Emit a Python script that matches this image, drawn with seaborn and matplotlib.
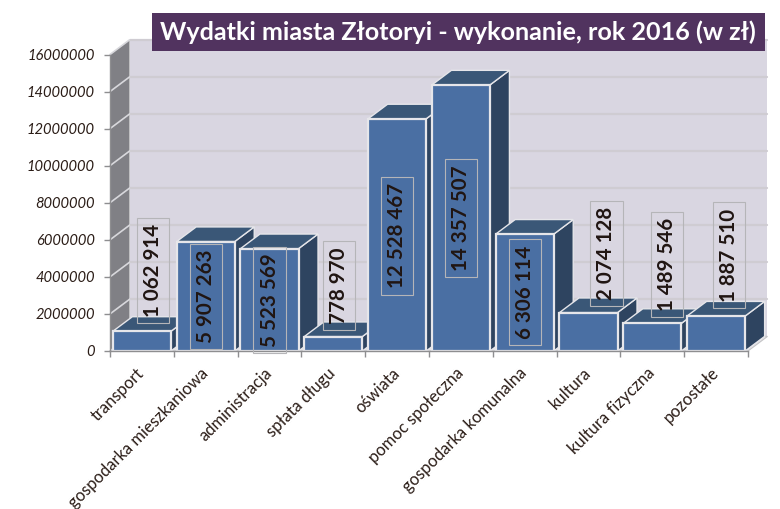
import matplotlib
matplotlib.use("Agg")
import matplotlib.pyplot as plt
from matplotlib.patches import Polygon, Rectangle
import pandas as pd
import seaborn as sns

categories = ["transport", "gospodarka mieszkaniowa", "administracja", "spłata długu",
              "oświata", "pomoc społeczna", "gospodarka komunalna", "kultura",
              "kultura fizyczna", "pozostałe"]
values = [1062914, 5907263, 5523569, 778970, 12528467, 14357507, 6306114, 2074128, 1489546, 1887510]
value_labels = ["1 062 914", "5 907 263", "5 523 569", "778 970", "12 528 467",
                "14 357 507", "6 306 114", "2 074 128", "1 489 546", "1 887 510"]
y_ticks = list(range(0, 16000001, 2000000))
# centre of each value label box relative to the top-centre of its bar (pixels; + = right / down)
label_dx_px = [11, 0, 0, 6, 0, 0, 0, 18, 15, 13]
label_dy_px = [-61, 55, 51.5, -51, 117, 133, 58, -59, -59, -61]

W, H = 780, 509
X0, X1, Y0, Y1 = 110, 748, 351, 54.5
DEPTH_X = 19.5 / ((X1 - X0) / 10)      # category units
DEPTH_Y = 14.6 / (Y0 - Y1) * 16000000  # value units

FRONT, TOP, SIDE = "#4a6fa3", "#3a5777", "#2e4460"
EDGE = "#e6e6ea"
WALL, SIDEWALL, GRID = "#d9d6e1", "#808085", "#cfccd2"
TXT = "#2b1d17"

sns.set_theme(style="white")
plt.rcParams["font.family"] = ["Lato", "DejaVu Sans"]

fig = plt.figure(figsize=(W / 100, H / 100), dpi=100, facecolor="white")
ax = fig.add_axes([X0 / W, 1 - Y0 / H, (X1 - X0) / W, (Y0 - Y1) / H])

df = pd.DataFrame({"kategoria": categories, "wydatki": values})
sns.barplot(data=df, x="kategoria", y="wydatki", color=FRONT, saturation=1, width=0.91,
            linewidth=1.6, edgecolor=EDGE, ax=ax)
ax.set_xlim(-0.5, 9.5)
ax.set_ylim(0, 16000000)
ax.set_xlabel("")
ax.set_ylabel("")
ax.patch.set_visible(False)
bars = [p for p in ax.patches if isinstance(p, Rectangle)][:len(values)]

# walls and floor
xl, xr, ymax = -0.5, 9.5, 16000000
ax.add_patch(Polygon([(xl + DEPTH_X, DEPTH_Y), (xr + DEPTH_X, DEPTH_Y), (xr + DEPTH_X, ymax + DEPTH_Y),
                      (xl + DEPTH_X, ymax + DEPTH_Y)], fc=WALL, ec="none", clip_on=False, zorder=0.1))
ax.add_patch(Polygon([(xl, 0), (xl + DEPTH_X, DEPTH_Y), (xl + DEPTH_X, ymax + DEPTH_Y), (xl, ymax)],
                     fc=SIDEWALL, ec="none", clip_on=False, zorder=0.1))
ax.add_patch(Polygon([(xl, 0), (xr, 0), (xr + DEPTH_X, DEPTH_Y), (xl + DEPTH_X, DEPTH_Y)],
                     fc="#e3e2e6", ec="#c4c4c6", lw=0.8, clip_on=False, zorder=0.15))
for t in y_ticks:
    if t > 0:
        ax.plot([xl + DEPTH_X, xr + DEPTH_X], [t + DEPTH_Y, t + DEPTH_Y], color=GRID, lw=1.6,
                clip_on=False, zorder=0.2)
    ax.plot([xl, xl + DEPTH_X], [t, t + DEPTH_Y], color="#d8d8dc", lw=1.2, clip_on=False, zorder=0.3)

# 3D faces, from the drawn bars
for i, bar in enumerate(bars):
    x, w, h = bar.get_x(), bar.get_width(), bar.get_height()
    z = 3 + i
    ax.add_patch(Polygon([(x + w, 0), (x + w + DEPTH_X, DEPTH_Y), (x + w + DEPTH_X, h + DEPTH_Y), (x + w, h)],
                         fc=SIDE, ec=EDGE, lw=1.0, clip_on=False, zorder=z))
    ax.add_patch(Polygon([(x, h), (x + w, h), (x + w + DEPTH_X, h + DEPTH_Y), (x + DEPTH_X, h + DEPTH_Y)],
                         fc=TOP, ec=EDGE, lw=1.0, clip_on=False, zorder=z))
    bar.set_zorder(z + 0.5)
    ax.annotate(value_labels[i], xy=(x + w / 2, h),
                xytext=(label_dx_px[i] * 0.72, -label_dy_px[i] * 0.72),
                textcoords="offset points", rotation=90, ha="center", va="center",
                fontsize=14.8, fontweight="bold", color="#201512", zorder=40, annotation_clip=False,
                bbox=dict(boxstyle="square,pad=0.3", fc="none", ec="#b5b5b8", lw=0.8))

# axes furniture
for s in ("top", "right"):
    ax.spines[s].set_visible(False)
for s in ("left", "bottom"):
    ax.spines[s].set_color("#8e8e90")
    ax.spines[s].set_linewidth(1.0)
    ax.spines[s].set_zorder(30)
ax.set_yticks(y_ticks)
ax.set_yticklabels([f"{t}" for t in y_ticks], fontsize=10.6, style="italic", color=TXT)
ax.tick_params(axis="y", length=4, width=1, color="#8e8e90", pad=7, left=True)
ax.set_xticks([i - 0.5 for i in range(len(categories) + 1)])
ax.set_xticklabels([""] * (len(categories) + 1))
ax.tick_params(axis="x", which="major", length=4, width=1, color="#8e8e90", bottom=True)
ax.set_xticks(range(len(categories)), minor=True)
ax.set_xticklabels(categories, minor=True, rotation=45, ha="right", va="center",
                   rotation_mode="anchor", fontsize=12, color=TXT)
ax.tick_params(axis="x", which="minor", length=0, pad=14)

# title banner
fig.patches.append(Rectangle((152 / W, 1 - 51 / H), 613 / W, 38 / H, transform=fig.transFigure,
                             fc="#51335f", ec="none", zorder=50))
fig.text(458 / W, 1 - 32.5 / H, "Wydatki miasta Złotoryi - wykonanie, rok 2016 (w zł)",
         ha="center", va="center", fontsize=18.1, fontweight="bold", color="white", zorder=60)

fig.savefig("out.png", dpi=100, facecolor="white")
